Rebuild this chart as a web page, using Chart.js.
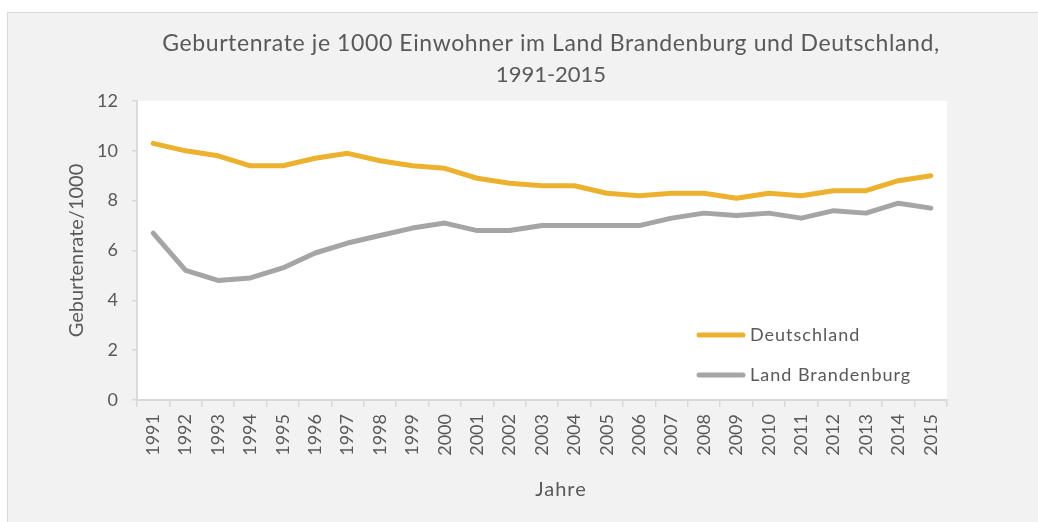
<!DOCTYPE html>
<html>
<head>
<meta charset="utf-8">
<script src="https://cdn.jsdelivr.net/npm/chart.js@4/dist/chart.umd.min.js"></script>
<style>
  html, body { margin: 0; padding: 0; background: #ffffff; }
  #wrap { position: absolute; left: 0; top: 0; width: 1038px; height: 522px; }
</style>
</head>
<body>
<div id="wrap"><canvas id="myChart" width="1038" height="522"></canvas></div>
<script>
// Geburtenrate je 1000 Einwohner, 1991-2015
const years = ['1991','1992','1993','1994','1995','1996','1997','1998','1999','2000',
  '2001','2002','2003','2004','2005','2006','2007','2008','2009','2010',
  '2011','2012','2013','2014','2015'];
const deutschland = [10.3, 10.0, 9.8, 9.4, 9.4, 9.7, 9.9, 9.6, 9.4, 9.3,
  8.9, 8.7, 8.6, 8.6, 8.3, 8.2, 8.3, 8.3, 8.1, 8.3,
  8.2, 8.4, 8.4, 8.8, 9.0];
const brandenburg = [6.7, 5.2, 4.8, 4.9, 5.3, 5.9, 6.3, 6.6, 6.9, 7.1,
  6.8, 6.8, 7.0, 7.0, 7.0, 7.0, 7.3, 7.5, 7.4, 7.5,
  7.3, 7.6, 7.5, 7.9, 7.7];
const yTicks = [0, 2, 4, 6, 8, 10, 12];

const gold = '#EDB130';
const grey = '#A5A5A5';
const textCol = '#595959';
const font = 'Lato, "Open Sans", sans-serif';

// background, white plot area, title, x title and legend
const decor = {
  id: 'decor',
  beforeDraw(chart) {
    const c = chart.ctx, a = chart.chartArea;
    c.save();
    c.fillStyle = '#F2F2F2';
    c.fillRect(7, 12, 1031, 510);
    c.strokeStyle = '#D9D9D9';
    c.lineWidth = 1;
    c.strokeRect(7.5, 12.5, 1040, 520);
    c.fillStyle = '#ffffff';
    c.fillRect(a.left, a.top, a.right - a.left, a.bottom - a.top);
    c.restore();
  },
  afterDraw(chart) {
    const c = chart.ctx;
    c.save();
    c.fillStyle = textCol;
    c.textAlign = 'center';
    c.textBaseline = 'middle';
    c.font = '23px ' + font;
    c.letterSpacing = '0.6px';
    c.fillText('Geburtenrate je 1000 Einwohner im Land Brandenburg und Deutschland,', 551, 44);
    c.font = '22px ' + font;
    c.letterSpacing = '0px';
    c.fillText('1991-2015', 551, 75);
    c.font = '20px ' + font;
    c.letterSpacing = '1px';
    c.fillText('Jahre', 561, 490);

    const items = [['Deutschland', gold, 335], ['Land Brandenburg', grey, 375]];
    c.textAlign = 'left';
    c.font = '18px ' + font;
    c.letterSpacing = '1px';
    items.forEach(function(it) {
      c.strokeStyle = it[1];
      c.lineWidth = 5;
      c.lineCap = 'round';
      c.beginPath();
      c.moveTo(699, it[2]);
      c.lineTo(743, it[2]);
      c.stroke();
      c.fillText(it[0], 750, it[2]);
    });
    c.restore();
  }
};

const graphData = {
  type: 'line',
  data: {
    labels: years,
    datasets: [{
      label: 'Deutschland',
      data: deutschland,
      borderColor: gold,
      backgroundColor: gold,
      borderWidth: 5,
      tension: 0,
      pointRadius: 0,
      borderCapStyle: 'round',
      borderJoinStyle: 'round'
    }, {
      label: 'Land Brandenburg',
      data: brandenburg,
      borderColor: grey,
      backgroundColor: grey,
      borderWidth: 5,
      tension: 0,
      pointRadius: 0,
      borderCapStyle: 'round',
      borderJoinStyle: 'round'
    }]
  },
  options: {
    responsive: false,
    animation: false,
    layout: { padding: { left: 7, top: 101, right: 91, bottom: 0 } },
    plugins: {
      legend: { display: false },
      title: { display: false },
      tooltip: { enabled: false }
    },
    scales: {
      x: {
        offset: true,
        grid: { offset: true, drawOnChartArea: false, tickLength: 7, color: '#D9D9D9', lineWidth: 1.5 },
        border: { color: '#D9D9D9', width: 2 },
        ticks: { color: textCol, font: { family: font, size: 18 }, minRotation: 90, maxRotation: 90, padding: 7, autoSkip: false },
        afterFit(scale) { scale.height = 122; }
      },
      y: {
        min: 0,
        max: 12,
        afterBuildTicks(scale) { scale.ticks = yTicks.map(v => ({ value: v })); },
        grid: { drawOnChartArea: false, tickLength: 5, color: '#D9D9D9', lineWidth: 1.5 },
        border: { color: '#D9D9D9', width: 2 },
        ticks: { color: textCol, font: { family: font, size: 18 }, padding: 14 },
        title: { display: true, text: 'Geburtenrate/1000', color: textCol, font: { family: font, size: 20 }, padding: { top: 58, bottom: 0 } },
        afterFit(scale) { scale.width = 130; }
      }
    }
  },
  plugins: [decor]
};

const ctx = document.getElementById('myChart').getContext('2d');
const myChart = new Chart(ctx, graphData);
</script>
</body>
</html>
